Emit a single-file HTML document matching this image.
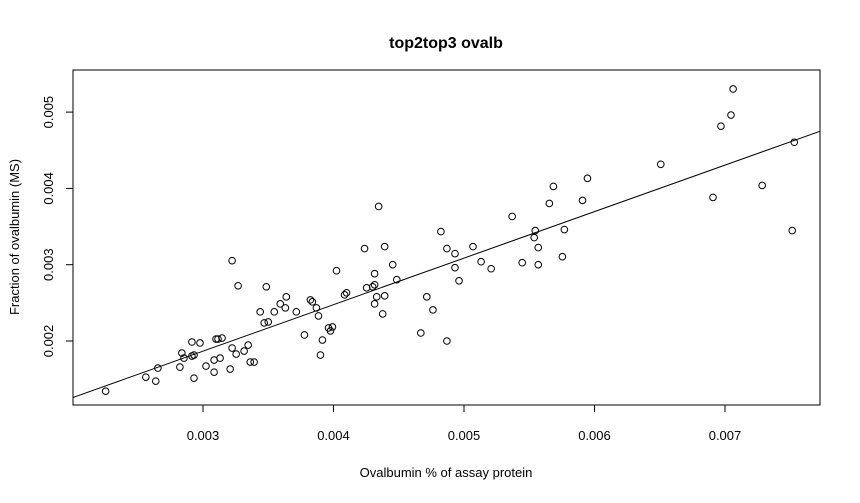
<!DOCTYPE html>
<html><head><meta charset="utf-8"><style>
body{margin:0;background:#fff;}
svg{display:block;font-family:"Liberation Sans",Arial,sans-serif;}
</style></head><body>
<svg id="chart" width="860" height="503" viewBox="0 0 860 503">
<defs><clipPath id="clip"><rect x="73" y="70" width="747" height="335"/></clipPath></defs>
<text x="446" y="48" text-anchor="middle" font-size="16" font-weight="bold">top2top3 ovalb</text>
<rect x="73" y="70" width="747" height="335" fill="none" stroke="#000" stroke-width="1"/>
<text x="446" y="477" text-anchor="middle" font-size="13">Ovalbumin % of assay protein</text>
<text transform="translate(19,237) rotate(-90)" text-anchor="middle" font-size="13">Fraction of ovalbumin (MS)</text>
<g id="axes"></g>
<g id="points" clip-path="url(#clip)"></g>
</svg>
<script>
const xTicks = [0.003, 0.004, 0.005, 0.006, 0.007];
const xTickLabels = ["0.003", "0.004", "0.005", "0.006", "0.007"];
const yTicks = [0.002, 0.003, 0.004, 0.005];
const yTickLabels = ["0.002", "0.003", "0.004", "0.005"];
const xValues = [2.254,2.562,2.638,2.654,2.823,2.838,2.854,2.915,2.915,2.931,2.931,2.977,3.023,3.085,3.085,3.100,3.115,3.131,3.146,3.208,3.223,3.223,3.254,3.269,3.315,3.346,3.362,3.392,3.438,3.469,3.485,3.500,3.546,3.592,3.631,3.638,3.715,3.777,3.823,3.838,3.869,3.885,3.900,3.915,3.962,3.977,3.992,4.023,4.085,4.100,4.238,4.254,4.300,4.315,4.315,4.315,4.331,4.346,4.377,4.392,4.392,4.454,4.485,4.669,4.715,4.762,4.823,4.869,4.869,4.931,4.931,4.962,5.069,5.131,5.208,5.369,5.446,5.538,5.546,5.569,5.569,5.754,5.769,5.654,5.685,5.908,5.946,6.508,6.908,6.969,7.046,7.062,7.285,7.515,7.531];
const yValues = [1.342,1.526,1.474,1.645,1.658,1.842,1.776,1.987,1.803,1.513,1.816,1.974,1.671,1.750,1.592,2.026,2.026,1.776,2.039,1.632,1.908,3.053,1.829,2.724,1.868,1.947,1.724,1.724,2.382,2.237,2.711,2.250,2.382,2.487,2.434,2.579,2.382,2.079,2.539,2.513,2.434,2.329,1.816,2.013,2.171,2.132,2.184,2.921,2.605,2.632,3.211,2.697,2.711,2.737,2.882,2.487,2.579,3.763,2.355,2.592,3.237,3.000,2.803,2.105,2.579,2.408,3.434,3.211,2.000,3.145,2.961,2.789,3.237,3.039,2.947,3.632,3.026,3.355,3.447,3.224,3.000,3.105,3.461,3.803,4.026,3.842,4.132,4.316,3.882,4.816,4.961,5.303,4.039,3.447,4.605];

const NS = "http://www.w3.org/2000/svg";
const X = v => 203 + (v - 0.003) * 130500;
const Y = v => 341 - (v - 0.002) * 76300;
const axes = document.getElementById('axes');
const pts = document.getElementById('points');
function mk(tag, attrs, parent){const e=document.createElementNS(NS,tag);for(const k in attrs)e.setAttribute(k,attrs[k]);parent.appendChild(e);return e;}

xTicks.forEach((t,i)=>{
  const px = X(t);
  const l = mk('line',{x1:px,x2:px,y1:405,y2:412,stroke:'#000'},axes);
  
  
  const tx = mk('text',{x:px,y:440,'text-anchor':'middle','font-size':'13'},axes);
  tx.textContent = xTickLabels[i];
  
  
});
yTicks.forEach((t,i)=>{
  const py = Y(t);
  const l = mk('line',{x1:66,x2:73,y1:py,y2:py,stroke:'#000'},axes);
  
  
  const tx = mk('text',{transform:`translate(53,${py}) rotate(-90)`,'text-anchor':'middle','font-size':'13'},axes);
  tx.textContent = yTickLabels[i];
  
  
});

const xs = xValues.map(v=>v/1000), ys = yValues.map(v=>v/1000);
const n = xs.length;
const mx = xs.reduce((a,b)=>a+b,0)/n, my = ys.reduce((a,b)=>a+b,0)/n;
let sxy=0,sxx=0;
for(let i=0;i<n;i++){sxy+=(xs[i]-mx)*(ys[i]-my);sxx+=(xs[i]-mx)**2;}
const slope = sxy/sxx, icpt = my - slope*mx;
const x0 = 0.0018, x1 = 0.0080;
const reg = mk('line',{x1:X(x0),y1:Y(icpt+slope*x0),x2:X(x1),y2:Y(icpt+slope*x1),stroke:'#000','stroke-width':'1'},pts);



for(let i=0;i<n;i++){
  const c = mk('circle',{cx:X(xs[i]),cy:Y(ys[i]),r:3.3,fill:'none',stroke:'#000','stroke-width':'1'},pts);
  
  
}
</script>
</body></html>
